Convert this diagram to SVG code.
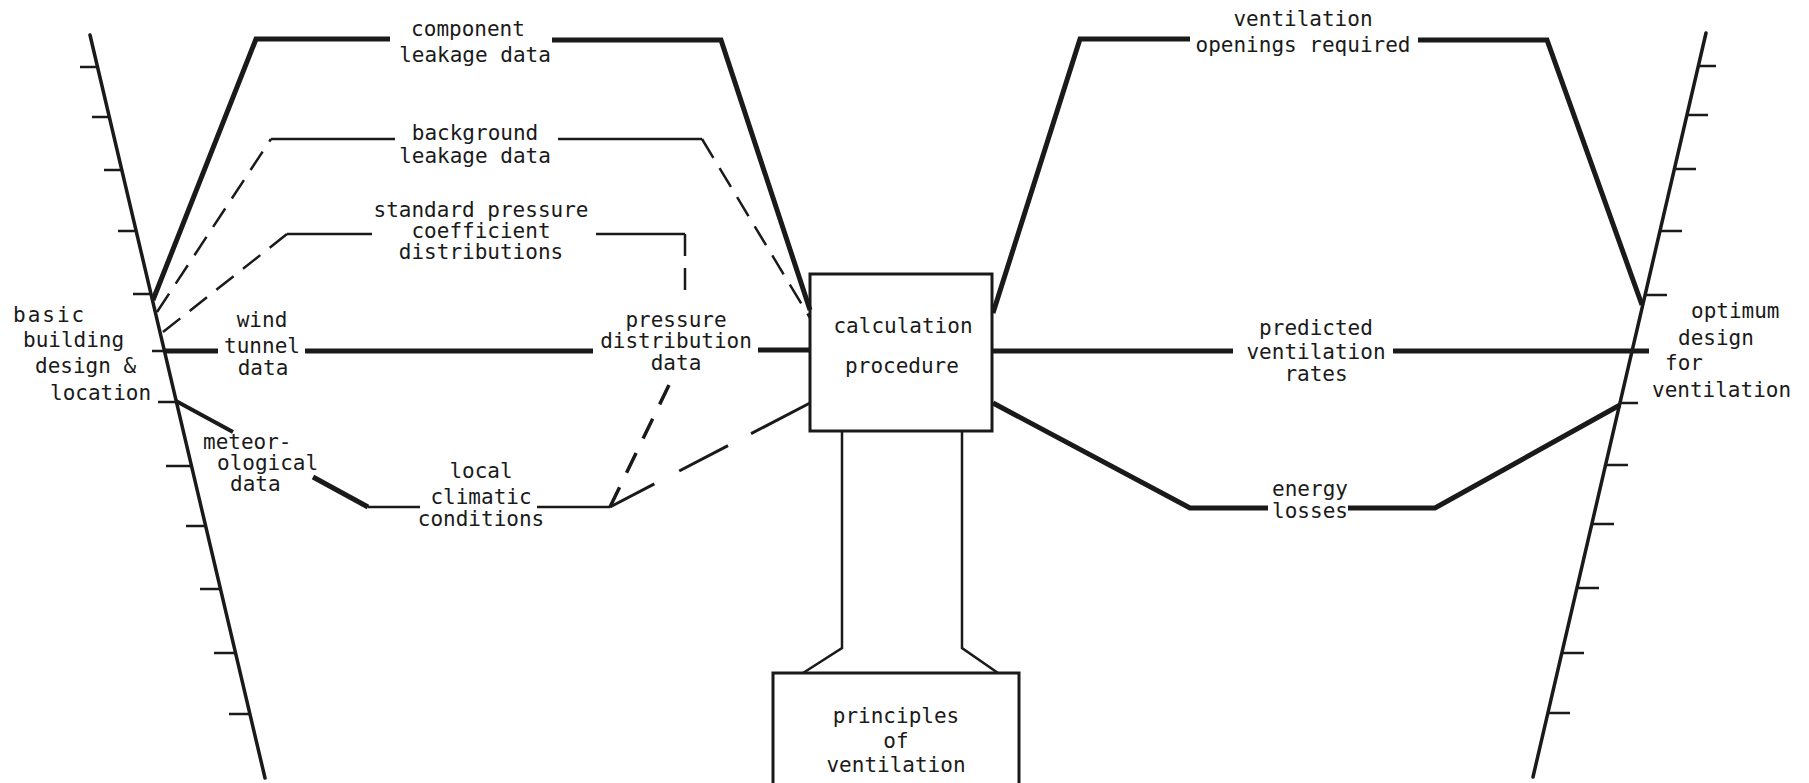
<svg xmlns="http://www.w3.org/2000/svg" width="1809" height="783" viewBox="0 0 1809 783">
<style>
  text { font-family: "DejaVu Sans Mono", "Liberation Mono", monospace; font-size: 21px; fill: #1a1a1a; }
  .c { text-anchor: middle; }
  .axis { stroke: #1a1a1a; stroke-width: 3.5; fill: none; stroke-linecap: round; }
  .tick { stroke: #1a1a1a; stroke-width: 2.5; fill: none; }
  .thick { stroke: #1a1a1a; stroke-width: 5; fill: none; stroke-linejoin: miter; }
  .med { stroke: #1a1a1a; stroke-width: 4; fill: none; }
  .thin { stroke: #1a1a1a; stroke-width: 2.5; fill: none; }
  .dash { stroke: #1a1a1a; stroke-width: 2.5; fill: none; stroke-dasharray: 22 12; }
  .dash2 { stroke: #1a1a1a; stroke-width: 3.5; fill: none; stroke-dasharray: 22 16; }
  .ldash { stroke: #1a1a1a; stroke-width: 3; fill: none; stroke-dasharray: 50 28 55 26 70; }
  .box { stroke: #1a1a1a; stroke-width: 3; fill: none; }
</style>

<g id="input-axis">
  <path class="axis" d="M90,35 L265,778"/>
  <path class="tick" d="M80,67 H97.5 M92,117 H109 M104,170 H122 M118,231 H136 M133,294 H151 M152,351 H164 M158,402 H176 M166,466 H191 M186,526 H205.5 M200,589 H220.5 M214,653 H235.5 M229,714 H250"/>
  <text x="13" y="322" letter-spacing="2">basic</text>
  <text x="23" y="347">building</text>
  <text x="35" y="373">design &amp;</text>
  <text x="50" y="400">location</text>
</g>

<g id="output-axis">
  <path class="axis" d="M1706,33 L1533,777"/>
  <path class="tick" d="M1698,66 H1716 M1687,115 H1708 M1674,169 H1696 M1660,231 H1682 M1645,295 H1667 M1620,403 H1638 M1606,465 H1628 M1592,524 H1614 M1577,588 H1599 M1562,653 H1584 M1548,713 H1570"/>
  <text x="1691" y="318">optimum</text>
  <text x="1678" y="345">design</text>
  <text x="1665" y="370">for</text>
  <text x="1652" y="397">ventilation</text>
</g>

<g id="calculation-procedure">
  <rect class="box" x="810" y="274" width="182" height="157"/>
  <text class="c" x="903" y="333">calculation</text>
  <text class="c" x="902" y="373">procedure</text>
</g>

<g id="principles-of-ventilation">
  <path class="thin" d="M842,431 V648 L803,673 M962,431 V648 L998,673"/>
  <path class="box" d="M773,783 V673 H1019 V783"/>
  <text class="c" x="896" y="723">principles</text>
  <text class="c" x="896" y="748">of</text>
  <text class="c" x="896" y="772">ventilation</text>
</g>

<g id="component-leakage-data">
  <text class="c" x="468" y="36">component</text>
  <text class="c" x="475" y="62">leakage data</text>
</g>

<g id="background-leakage-data">
  <text class="c" x="475" y="140">background</text>
  <text class="c" x="475" y="163">leakage data</text>
</g>

<g id="standard-pressure-coefficient-distributions">
  <text class="c" x="481" y="217">standard pressure</text>
  <text class="c" x="481" y="238">coefficient</text>
  <text class="c" x="481" y="259">distributions</text>
</g>

<g id="wind-tunnel-data">
  <text class="c" x="262" y="327">wind</text>
  <text class="c" x="262" y="353">tunnel</text>
  <text class="c" x="263" y="375">data</text>
</g>

<g id="pressure-distribution-data">
  <text class="c" x="676" y="327">pressure</text>
  <text class="c" x="676" y="348">distribution</text>
  <text class="c" x="676" y="370">data</text>
</g>

<g id="meteorological-data">
  <text x="203" y="449">meteor-</text>
  <text x="217" y="470">ological</text>
  <text x="230" y="491">data</text>
</g>

<g id="local-climatic-conditions">
  <text class="c" x="481" y="478">local</text>
  <text class="c" x="481" y="504">climatic</text>
  <text class="c" x="481" y="526">conditions</text>
</g>

<g id="ventilation-openings-required">
  <text class="c" x="1303" y="26">ventilation</text>
  <text class="c" x="1303" y="52">openings required</text>
</g>

<g id="predicted-ventilation-rates">
  <text class="c" x="1316" y="335">predicted</text>
  <text class="c" x="1316" y="359">ventilation</text>
  <text class="c" x="1316" y="381">rates</text>
</g>

<g id="energy-losses">
  <text class="c" x="1310" y="496">energy</text>
  <text class="c" x="1310" y="518">losses</text>
</g>

<g id="connectors">
  <!-- component leakage -->
  <path class="thick" d="M153,300 L256,39 H390"/>
  <path class="thick" d="M552,40 H721 L810,310"/>
  <!-- background leakage -->
  <path class="dash" d="M157,312 L271,139"/>
  <path class="thin" d="M271,139 H395"/>
  <path class="thin" d="M558,139 H702"/>
  <path class="dash" d="M702,139 L810,318"/>
  <!-- standard pressure coefficients -->
  <path class="dash" d="M163,332 L287,234"/>
  <path class="thin" d="M287,234 H372"/>
  <path class="thin" d="M596,234 H685"/>
  <path class="dash" d="M685,234 V292"/>
  <!-- wind tunnel / pressure distribution -->
  <path class="thick" d="M164,351 H218 M305,351 H593 M758,350 H810"/>
  <!-- meteorological / local climatic -->
  <path class="med" d="M176,401 L233,432"/>
  <path class="thick" d="M313,477 L368,507"/>
  <path class="thin" d="M368,507 H420 M537,507 H610"/>
  <path class="dash2" d="M610,507 L669,385"/>
  <path class="ldash" d="M610,507 L810,403"/>
  <!-- outputs -->
  <path class="thick" d="M993,313 L1080,39 H1190 M1418,40 H1547 L1642,305"/>
  <path class="thick" d="M993,351 H1233 M1393,351 H1649"/>
  <path class="thick" d="M993,403 L1190,508 H1268 M1348,508 H1435 L1620,405"/>
</g>
</svg>
